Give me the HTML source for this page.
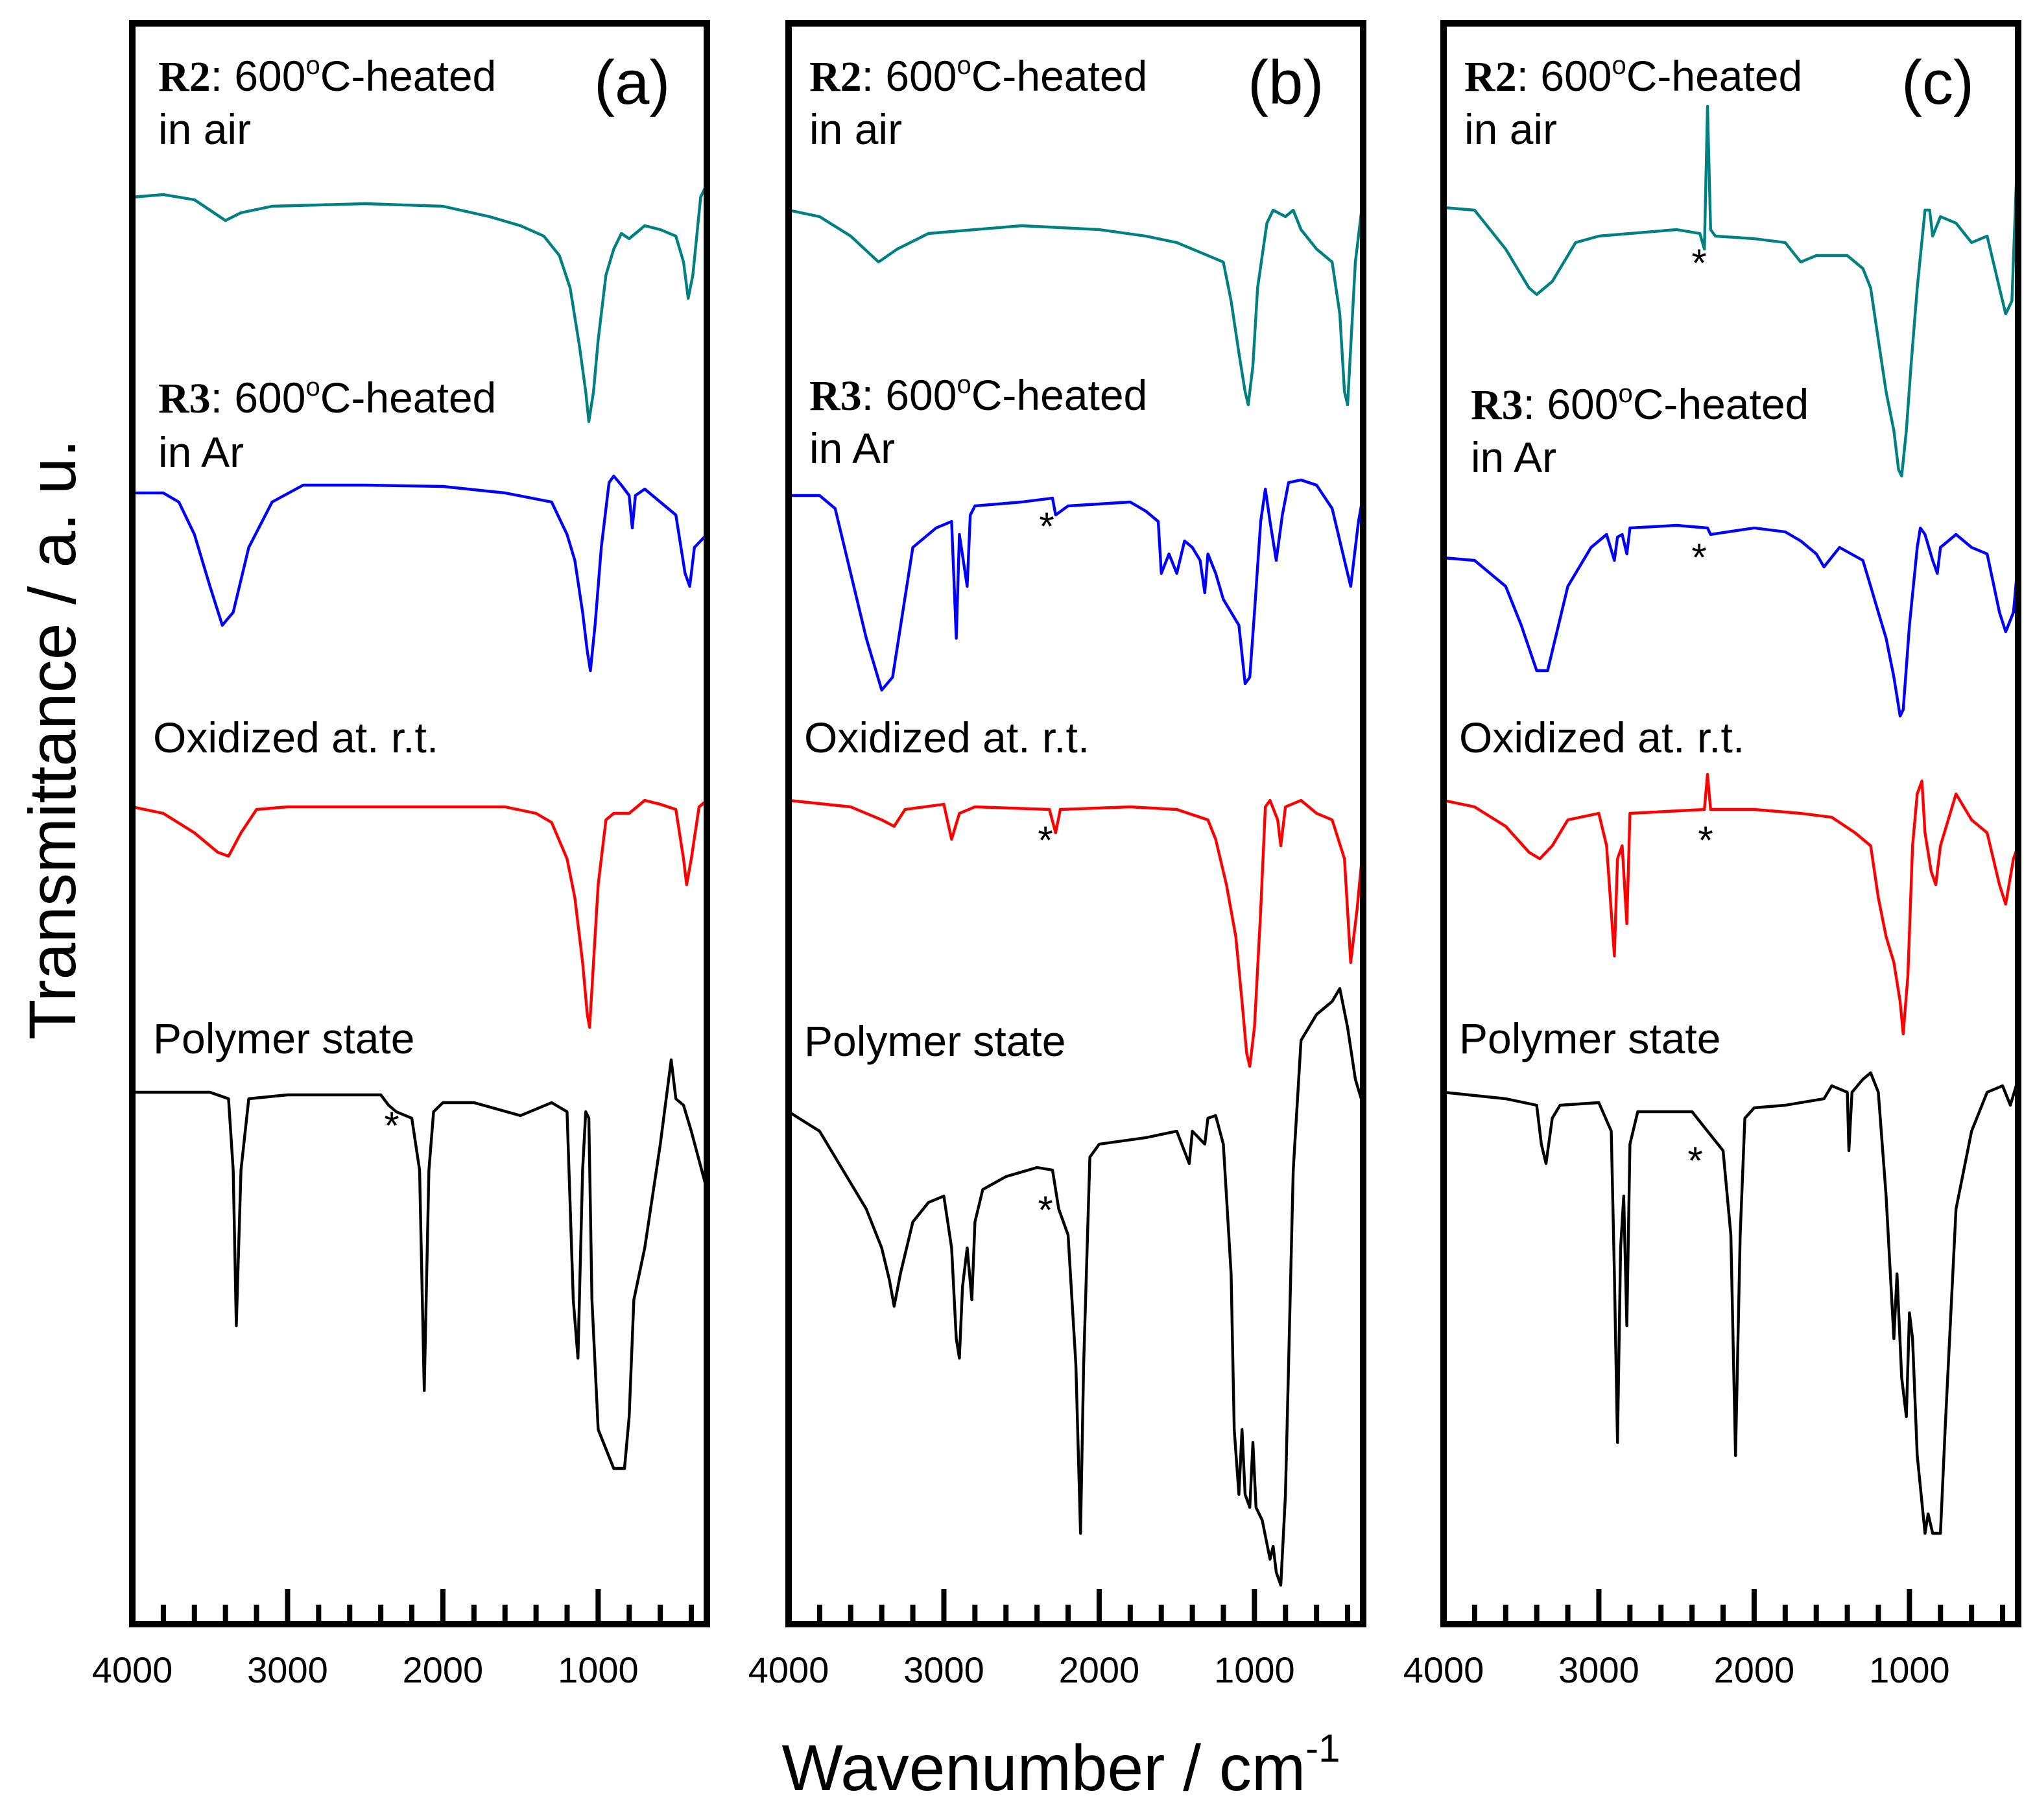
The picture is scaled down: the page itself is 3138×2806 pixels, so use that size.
<!DOCTYPE html>
<html><head><meta charset="utf-8"><style>
html,body{margin:0;padding:0;background:#fff;}
svg{display:block;}
text{font-family:"Liberation Sans",sans-serif;fill:#000;}
.lbl{font-size:33px;}
.ser{font-family:"Liberation Serif",serif;font-weight:bold;}
</style></head><body>
<svg id="chart" width="3138" height="2806" viewBox="0 0 1569 1403" xmlns="http://www.w3.org/2000/svg">
<g id="panels"></g>
<text x="0" y="0" font-size="51" text-anchor="middle" transform="translate(58,570) rotate(-90)">Transmittance / a. u.</text>
<text x="818" y="1380" font-size="50" text-anchor="middle">Wavenumber / cm<tspan font-size="30" dy="-22">-1</tspan></text>
</svg>
<script>
// ---- data (wavenumber cm-1, transmittance a.u.) ----
const tickMajor = [4000, 3000, 2000, 1000];
const tickLabels = ["4000", "3000", "2000", "1000"];
const panelIds = ["a", "b", "c"];

const wnTealA = [4000,3800,3600,3500,3400,3300,3100,2500,2000,1700,1500,1350,1250,1180,1120,1080,1060,1030,1000,950,900,850,800,700,600,500,450,420,390,340,300];
const tTealA  = [1100,1102,1098,1090,1082,1088,1093,1095,1093,1085,1078,1070,1055,1030,985,950,927,950,990,1040,1060,1072,1068,1078,1075,1070,1050,1022,1040,1100,1110];
const wnBlueA = [4000,3800,3700,3600,3500,3420,3350,3250,3100,2900,2500,2000,1600,1300,1200,1150,1100,1070,1050,1020,980,930,900,850,800,780,760,700,600,500,440,410,380,300];
const tBlueA  = [872,872,865,840,800,770,780,830,865,878,878,877,872,865,840,820,780,750,735,770,830,880,885,878,870,845,870,875,865,855,810,800,830,840];
const wnRedA = [4000,3800,3600,3450,3380,3300,3200,3000,2000,1600,1400,1300,1200,1150,1100,1070,1055,1030,1000,950,900,800,700,600,500,450,430,400,350,300];
const tRedA  = [630,625,610,595,592,610,628,630,630,630,625,618,590,560,510,470,460,510,570,620,625,625,635,632,628,590,570,590,630,635];
const wnBlackA = [4000,3500,3380,3350,3330,3300,3250,3000,2400,2350,2300,2200,2150,2120,2090,2060,2000,1800,1500,1300,1200,1160,1130,1100,1080,1060,1040,1000,950,900,830,800,770,700,600,530,500,450,400,300];
const tBlackA  = [410,410,405,350,230,350,405,408,408,400,395,390,350,180,350,395,402,402,392,402,395,250,205,350,395,390,250,150,135,120,120,160,250,290,370,435,405,400,380,335];

const wnTealB = [4000,3800,3600,3420,3300,3100,2500,2000,1700,1500,1400,1300,1200,1150,1100,1060,1040,1010,980,920,880,800,750,700,600,500,450,420,400,350,300];
const tTealB  = [1090,1085,1070,1050,1060,1072,1078,1075,1070,1065,1060,1055,1050,1020,980,950,940,970,1030,1080,1090,1085,1090,1075,1060,1050,1010,950,940,1050,1100];
const wnBlueB = [4000,3800,3700,3600,3500,3400,3330,3200,3050,2950,2920,2900,2850,2830,2800,2500,2300,2280,2200,1800,1700,1620,1600,1550,1500,1450,1400,1350,1320,1300,1250,1200,1150,1100,1060,1030,1000,960,930,900,860,820,780,700,600,500,420,380,330,300];
const tBlueB  = [870,870,860,810,760,720,730,830,845,850,760,840,800,855,862,865,868,855,862,865,858,850,810,825,810,835,830,820,795,825,810,790,780,770,725,730,780,850,875,850,820,855,880,882,878,860,820,800,850,870];
const wnRedB = [4000,3600,3400,3320,3250,3000,2950,2900,2800,2320,2280,2250,1800,1500,1300,1250,1180,1120,1080,1050,1030,1000,960,930,900,850,830,800,700,600,500,420,400,380,340,300];
const tRedB  = [635,630,620,615,628,632,605,625,630,628,610,628,630,628,620,605,570,530,480,440,430,460,550,630,635,620,600,630,635,625,620,590,550,510,550,600];
const wnBlackB = [4000,3800,3650,3500,3400,3350,3320,3280,3200,3100,3000,2950,2920,2900,2880,2850,2820,2800,2750,2600,2400,2300,2260,2200,2150,2120,2100,2060,2000,1700,1500,1420,1400,1320,1300,1250,1200,1150,1130,1100,1080,1060,1030,1010,990,950,900,880,860,830,800,750,700,600,500,450,400,350,300];
const tBlackB  = [395,380,350,320,290,265,245,270,310,325,330,290,220,205,260,290,250,310,335,345,352,350,320,300,200,70,200,360,370,375,380,355,380,370,390,392,370,270,150,100,150,100,90,140,90,80,50,60,40,30,100,350,450,470,480,490,460,420,400];

const wnTealC = [4000,3800,3600,3450,3400,3300,3150,3000,2500,2350,2320,2300,2280,2250,2000,1800,1700,1600,1400,1300,1250,1200,1150,1100,1070,1050,1020,990,950,900,870,850,800,700,600,500,420,380,340,300];
const tTealC  = [1092,1090,1060,1030,1025,1035,1065,1070,1075,1072,1060,1170,1075,1070,1068,1065,1050,1055,1055,1045,1030,990,950,920,890,885,920,970,1030,1090,1090,1070,1085,1080,1065,1070,1030,1010,1020,1150];
const wnBlueC = [4000,3800,3600,3500,3400,3330,3200,3050,2950,2900,2880,2850,2820,2800,2500,2300,2280,2000,1800,1700,1600,1550,1450,1300,1250,1200,1150,1100,1060,1040,1000,950,930,900,850,820,800,700,600,500,420,380,330,300];
const tBlueC  = [822,820,800,770,735,735,800,830,840,820,838,840,825,845,847,845,840,845,842,835,825,815,830,820,800,780,760,730,700,705,770,830,845,840,820,810,830,840,830,825,780,765,780,820];
const wnRedC = [4000,3800,3600,3450,3380,3300,3200,3000,2950,2900,2880,2850,2820,2800,2320,2300,2280,2000,1700,1500,1350,1250,1200,1150,1100,1060,1040,1010,980,950,920,900,860,830,800,700,600,500,420,380,330,300];
const tRedC  = [635,630,615,595,590,600,620,625,600,515,590,600,540,625,628,655,628,628,625,622,610,600,560,530,510,480,455,500,600,640,650,610,580,570,600,640,620,610,570,555,590,600];
const wnBlackC = [4000,3600,3400,3370,3340,3300,3250,3000,2920,2900,2880,2860,2840,2820,2800,2750,2400,2300,2200,2150,2120,2090,2060,2000,1800,1550,1500,1400,1390,1370,1300,1250,1200,1150,1100,1080,1050,1020,1000,980,950,900,880,850,800,770,700,650,600,500,400,350,300];
const tBlackC  = [410,405,400,370,355,390,400,402,380,270,140,290,330,230,370,395,395,380,365,300,130,300,390,398,400,405,415,410,365,410,420,425,410,330,220,270,190,160,240,220,130,70,85,70,70,150,320,350,380,410,415,400,420];

const seriesA = [[wnTealA,tTealA,"#008080","teal-r2-air"],[wnBlueA,tBlueA,"#0000ff","blue-r3-ar"],[wnRedA,tRedA,"#ff0000","red-oxidized"],[wnBlackA,tBlackA,"#000000","black-polymer"]];
const seriesB = [[wnTealB,tTealB,"#008080","teal-r2-air"],[wnBlueB,tBlueB,"#0000ff","blue-r3-ar"],[wnRedB,tRedB,"#ff0000","red-oxidized"],[wnBlackB,tBlackB,"#000000","black-polymer"]];
const seriesC = [[wnTealC,tTealC,"#008080","teal-r2-air"],[wnBlueC,tBlueC,"#0000ff","blue-r3-ar"],[wnRedC,tRedC,"#ff0000","red-oxidized"],[wnBlackC,tBlackC,"#000000","black-polymer"]];

// ---- layout ----
const NS = "http://www.w3.org/2000/svg";
const panelLeft = [102, 608, 1113];
const PW = 443, TOP = 18, BOT = 1252;
const WN_MAX = 4000, WN_MIN = 300;
function xScale(x0, wn) { return x0 + (WN_MAX - wn) / (WN_MAX - WN_MIN) * PW; }
function yScale(t) { return BOT - t; }
function mk(tag, attrs, parent) { const e = document.createElementNS(NS, tag); for (const k in attrs) e.setAttribute(k, attrs[k]); parent.appendChild(e); return e; }

const root = document.getElementById("panels");
const allSeries = [seriesA, seriesB, seriesC];
const texts = [
  {r2y:[70,111], r3:[122,318,360], ox:580, poly:812, lx:122, lab:[458,80], stars:[[302,878]]},
  {r2y:[70,111], r3:[624,316,357], ox:580, poly:814, lx:624, lab:[962,80], stars:[[807,416],[806,658],[806,943]]},
  {r2y:[70,111], r3:[1134,323,364], ox:580, poly:812, lx:1129, lab:[1466,80], stars:[[1310,213],[1310,440],[1315,658],[1307,905]]}
];
panelIds.forEach((pid, pi) => {
  const x0 = panelLeft[pi];
  const g = mk("g", {}, root);
  
  
  allSeries[pi].forEach(s => {
    const [wn, tv, col, nm] = s;
    let d = "";
    wn.forEach((w, i) => { d += (i ? "L" : "M") + xScale(x0, w).toFixed(1) + "," + yScale(tv[i]).toFixed(1); });
    const p = mk("path", {d: d, fill: "none", stroke: col, "stroke-width": 2.2, "stroke-linejoin": "round"}, g);
    
    
  });
  const fr = mk("rect", {x: x0, y: TOP, width: PW, height: BOT - TOP, fill: "none", stroke: "#000", "stroke-width": 5}, g);
  
  
  for (let w = 3800; w > WN_MIN + 50; w -= 200) {
    const major = (w % 1000 === 0);
    const x = xScale(x0, w);
    const t = mk("line", {x1: x, x2: x, y1: BOT, y2: BOT - (major ? 27 : 15), stroke: "#000", "stroke-width": 4}, g);
    
    
  }
  tickMajor.forEach((w, i) => {
    const tl = mk("text", {x: xScale(x0, w), y: 1297, "font-size": 28, "text-anchor": "middle"}, g);
    tl.textContent = tickLabels[i];
    
    
  });
  const T = texts[pi];
  const r2 = mk("text", {x: T.lx, y: T.r2y[0], class: "lbl"}, g);
  r2.innerHTML = '<tspan class="ser">R2</tspan>: 600<tspan font-size="20" dy="-13">o</tspan><tspan dy="13">C-heated</tspan>';
  
  
  const r2b = mk("text", {x: T.lx, y: T.r2y[1], class: "lbl"}, g); r2b.textContent = "in air";
  
  
  const r3 = mk("text", {x: T.r3[0], y: T.r3[1], class: "lbl"}, g);
  r3.innerHTML = '<tspan class="ser">R3</tspan>: 600<tspan font-size="20" dy="-13">o</tspan><tspan dy="13">C-heated</tspan>';
  
  
  const r3b = mk("text", {x: T.r3[0], y: T.r3[2], class: "lbl"}, g); r3b.textContent = "in Ar";
  
  
  const ox = mk("text", {x: T.lx - 4, y: T.ox, class: "lbl"}, g); ox.textContent = "Oxidized at. r.t.";
  
  
  const po = mk("text", {x: T.lx - 4, y: T.poly, class: "lbl"}, g); po.textContent = "Polymer state";
  
  
  const pl = mk("text", {x: T.lab[0], y: T.lab[1], "font-size": 48}, g); pl.textContent = "(" + pid + ")";
  
  
  T.stars.forEach(st => {
    const s = mk("text", {x: st[0], y: st[1], "font-size": 30, "text-anchor": "middle"}, g); s.textContent = "*";
    
    
  });
});
</script>
</body></html>
